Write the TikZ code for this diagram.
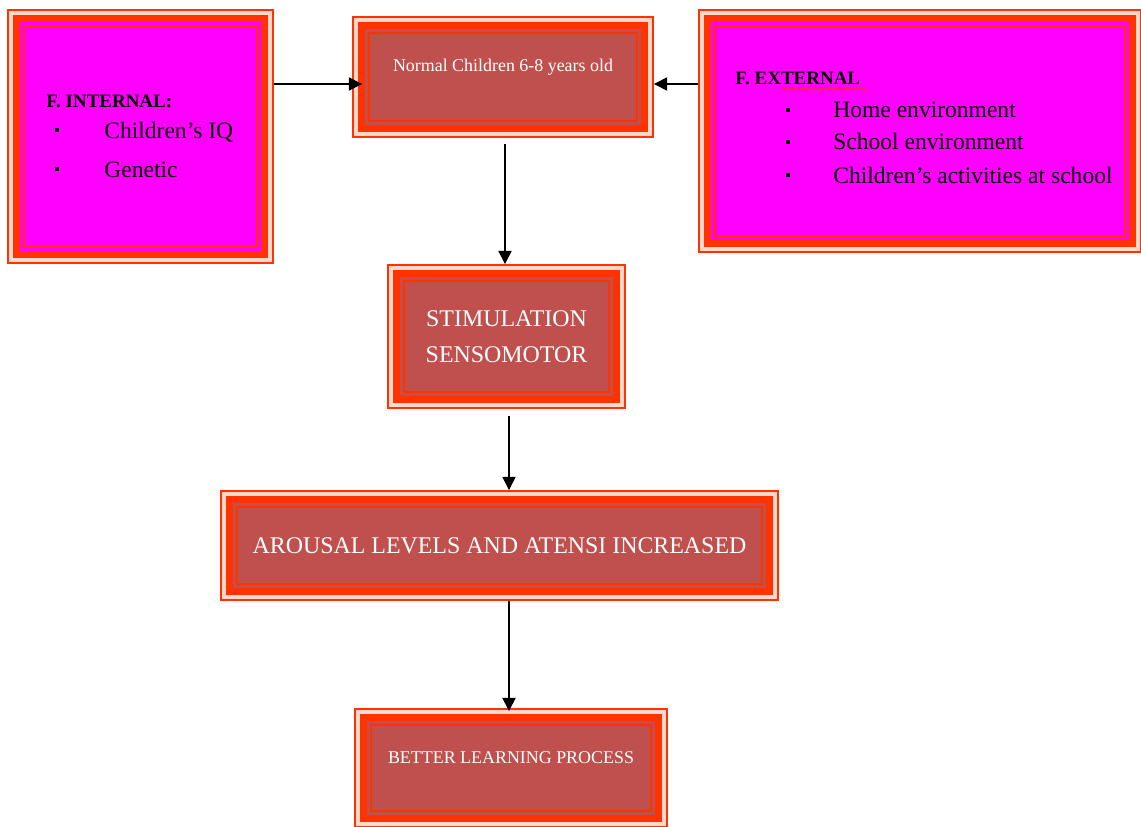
\documentclass[tikz,border=0pt]{standalone}
\usepackage{fontspec}
\setmainfont{Liberation Serif}
\usetikzlibrary{arrows.meta, calc, decorations.pathmorphing}
\definecolor{boxred}{HTML}{FF3300}
\definecolor{boxpale}{HTML}{FFD8CC}
\definecolor{boxmag}{HTML}{FF00FF}
\definecolor{boxbrick}{HTML}{C0504D}
\tikzset{
  layerbox/.style={rectangle, draw=boxred, line width=1.1pt, fill=boxpale, inner sep=0pt, align=center,
    path picture={
      \fill[boxred] ([shift={(2.8pt,2.8pt)}]path picture bounding box.south west)
        rectangle ([shift={(-2.8pt,-2.8pt)}]path picture bounding box.north east);
      \fill[#1] ([shift={(6.8pt,6.8pt)}]path picture bounding box.south west)
        rectangle ([shift={(-6.8pt,-6.8pt)}]path picture bounding box.north east);
      \draw[boxred, line width=1.1pt] ([shift={(9.1pt,9.1pt)}]path picture bounding box.south west)
        rectangle ([shift={(-9.1pt,-9.1pt)}]path picture bounding box.north east);
    }},
  bigtxt/.style={text=white, font=\fontsize{13.6}{16}\selectfont},
  smalltxt/.style={text=white, font=\fontsize{10.2}{12}\selectfont, text height=7pt, text depth=12.7pt},
  headtxt/.style={anchor=base west, inner sep=0pt, font=\bfseries\fontsize{10.8}{13}\selectfont},
  itemtxt/.style={anchor=base west, inner sep=0pt, font=\fontsize{13.4}{16}\selectfont},
  bul/.style={rectangle, fill=black, minimum size=2pt, inner sep=0pt},
  arr/.style={-{Triangle[length=7.5pt,width=7.5pt]}, line width=0.8pt, black},
}
\begin{document}
\begin{tikzpicture}[x=0.02cm, y=-0.02cm]
  \useasboundingbox (0,0) rectangle (1141,827);

  % boxes
  \node[layerbox=boxmag, minimum width=5.3cm, minimum height=5.06cm] (intl) at (140.5,136.5) {};
  \node[layerbox=boxbrick, smalltxt, minimum width=6cm, minimum height=2.4cm] (norm) at (503,77)
    {Normal Children 6-8 years old};
  \node[layerbox=boxmag, minimum width=8.84cm, minimum height=4.84cm] (extl) at (920,131) {};
  \node[layerbox=boxbrick, bigtxt, minimum width=4.74cm, minimum height=2.86cm] (stim) at (506.5,336.5)
    {STIMULATION\\[4.8pt]SENSOMOTOR};
  \node[layerbox=boxbrick, bigtxt, minimum width=11.14cm, minimum height=2.18cm] (arou) at (499.5,545.5)
    {AROUSAL LEVELS AND ATENSI INCREASED};
  \node[layerbox=boxbrick, smalltxt, minimum width=6.24cm, minimum height=2.36cm] (bett) at (511,768)
    {BETTER LEARNING PROCESS};

  % internal factors
  \node[headtxt] (intlhead) at (46,108) {F. INTERNAL:};
  \node[bul] (intlb1) at (57,130) {};
  \node[itemtxt] (intlit1) at (104,139) {Children’s IQ};
  \node[bul] (intlb2) at (57,169) {};
  \node[itemtxt] (intlit2) at (104,178) {Genetic};

  % external factors
  \node[headtxt] (extlhead) at (735,85) {F. EXTERNAL};
  \draw[boxred, line width=0.5pt, decorate, decoration={snake, amplitude=0.6pt, segment length=3pt}]
    (782,89) -- (868,89);
  \node[bul] (extlb1) at (788,110) {};
  \node[itemtxt] (extlit1) at (833,118) {Home environment};
  \node[bul] (extlb2) at (788,142) {};
  \node[itemtxt] (extlit2) at (833,150) {School environment};
  \node[bul] (extlb3) at (788,175) {};
  \node[itemtxt] (extlit3) at (833,184) {Children's activities at school};

  % arrows
  \draw[arr] ($(intl.east |- norm.west)+(0,7)$) -- ($(norm.west)+(10,7)$);
  \draw[arr] ($(extl.west |- norm.east)+(0,7)$) -- ($(norm.east)+(0,7)$);
  \draw[arr] ($(norm.south)+(2,6)$) -- ($(norm.south |- stim.north)+(2,0)$);
  \draw[arr] ($(stim.south)+(2.5,7)$) -- ($(stim.south |- arou.north)+(2.5,0)$);
  \draw[arr] ($(bett.north |- arou.south)+(-2,0)$) -- ($(bett.north)+(-2,3)$);
\end{tikzpicture}
\end{document}
